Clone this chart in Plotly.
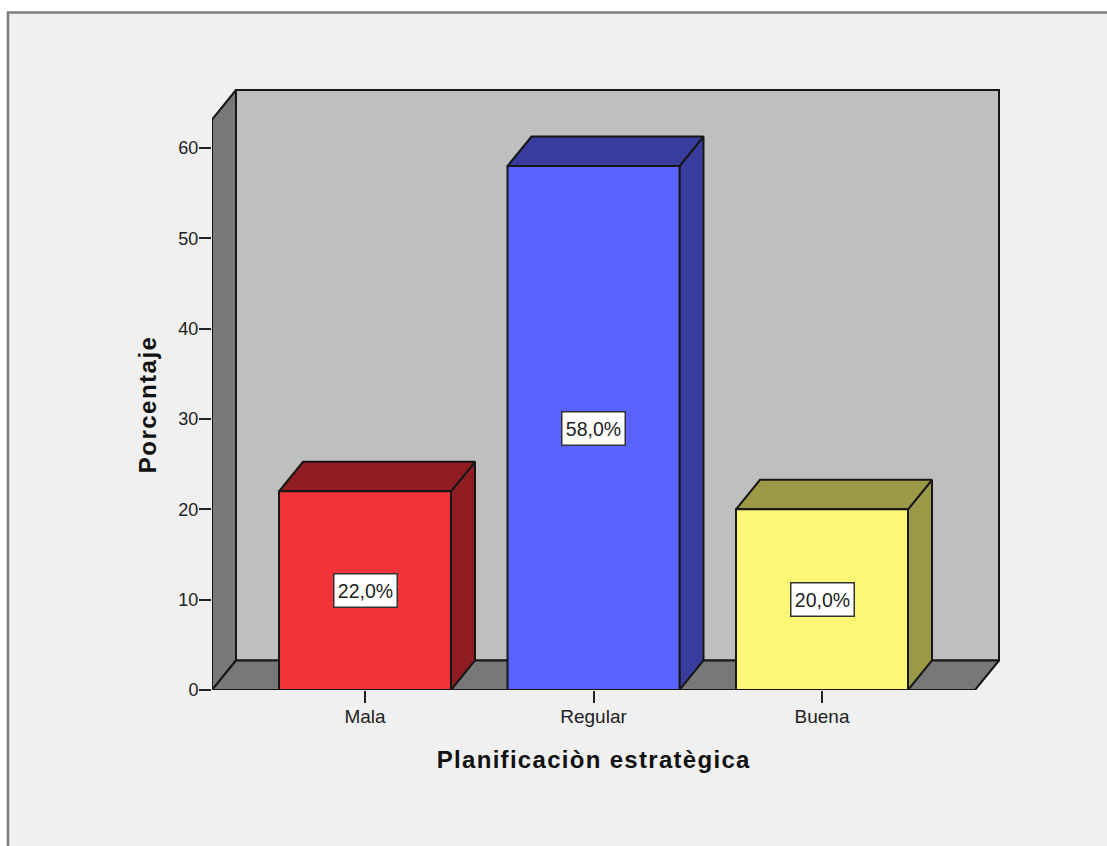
import plotly.graph_objects as go

categories = ["Mala", "Regular", "Buena"]
values = [22.0, 58.0, 20.0]
labels = ["22,0%", "58,0%", "20,0%"]
front_colors = ["#f23339", "#5a62ff", "#fcf876"]
shade_colors = ["#8f1d21", "#383c9c", "#9d9a47"]
y_ticks = [0, 10, 20, 30, 40, 50, 60]

W, H = 1107, 846
PAD = 4                                      # spare room so edge lines are not clipped
PX_L, PX_R, PX_T, PX_B = 212, 999, 90, 690   # 3D box in pixels
PX_X0, PX_STEP = 365, 228.5                  # first category, category step
PX_UNIT = (690 - 148) / 60                   # pixels per y unit
DX = 24 / PX_STEP                            # 3D depth in data units
DY = 29.5 / PX_UNIT
BAR_W = 172 / PX_STEP
X_MIN = (PX_L - PX_X0) / PX_STEP
X_MAX = (PX_R - PX_X0) / PX_STEP
X_FRONT = X_MAX - DX
Y_MAX = (PX_B - PX_T) / PX_UNIT
Y_FRONT = Y_MAX - DY
LINE = "#161616"
TXT = "#222222"
FONT = "Liberation Sans, Arial, sans-serif"


def poly(fig, xs, ys, color):
    fig.add_trace(go.Scatter(
        x=xs + xs[:1], y=ys + ys[:1], mode="lines", fill="toself", fillcolor=color,
        line=dict(color=LINE, width=2), hoverinfo="skip", showlegend=False,
        cliponaxis=False,
    ))


fig = go.Figure()
# back wall, side wall, floor
poly(fig, [X_MIN + DX, X_MAX, X_MAX, X_MIN + DX], [DY, DY, Y_MAX, Y_MAX], "#bfbfbf")
poly(fig, [X_MIN, X_MIN + DX, X_MIN + DX, X_MIN], [0, DY, Y_MAX, Y_FRONT], "#787878")
poly(fig, [X_MIN, X_FRONT, X_MAX, X_MIN + DX], [0, 0, DY, DY], "#787878")

# bars
for i, v in enumerate(values):
    x0, x1 = i - BAR_W / 2, i + BAR_W / 2
    poly(fig, [x1, x1 + DX, x1 + DX, x1], [0, DY, v + DY, v], shade_colors[i])
    poly(fig, [x0, x1, x1 + DX, x0 + DX], [v, v, v + DY, v + DY], shade_colors[i])
    poly(fig, [x0, x1, x1, x0], [0, 0, v, v], front_colors[i])

annotations = [
    dict(x=i, y=v / 2, text=labels[i], showarrow=False, bgcolor="white",
         bordercolor="#333333", borderwidth=1.5, width=60, height=30, borderpad=1,
         font=dict(family=FONT, size=19.5, color=TXT))
    for i, v in enumerate(values)
]
annotations += [
    dict(x=(X_MIN + X_FRONT) / 2, y=0, yshift=-69, text="<b>Planificaciòn estratègica</b>",
         showarrow=False, font=dict(family=FONT, size=24, color="#111111")),
    dict(x=X_MIN, xshift=-64, y=Y_FRONT / 2, text="<b>Porcentaje</b>", textangle=-90,
         showarrow=False, font=dict(family=FONT, size=24, color="#111111")),
]

PLOT_R = PX_R + PAD
PLOT_T = PX_T - PAD


def px(x):
    return (x - PX_L) / (PLOT_R - PX_L)


def py(y):
    return (PX_B - y) / (PX_B - PLOT_T)


fig.update_layout(
    width=W, height=H,
    margin=dict(l=PX_L, r=W - PLOT_R, t=PLOT_T, b=H - PX_B, autoexpand=False),
    paper_bgcolor="white", plot_bgcolor="rgba(0,0,0,0)",
    showlegend=False,
    annotations=annotations,
    shapes=[dict(type="rect", xref="paper", yref="paper", layer="below",
                 x0=px(8), x1=px(W + 20), y0=py(H + 20), y1=py(12.5),
                 fillcolor="#f0f0f0", line=dict(color="#7d7d7d", width=2.5))],
    xaxis=dict(range=[X_MIN, X_MAX + PAD / PX_STEP], tickmode="array", tickvals=list(range(3)),
               ticktext=categories, ticks="outside", ticklen=12, tickwidth=2,
               tickcolor="#222222", showgrid=False, zeroline=False, showline=False,
               ticklabelstandoff=-3,
               tickfont=dict(family=FONT, size=19, color=TXT)),
    yaxis=dict(range=[0, Y_MAX + PAD / PX_UNIT], tickmode="array", tickvals=y_ticks,
               ticks="outside", ticklen=12, tickwidth=2, tickcolor="#222222",
               showgrid=False, zeroline=False, showline=False,
               ticklabelstandoff=-3,
               tickfont=dict(family=FONT, size=18, color=TXT)),
)

post = """
document.body.style.margin='0';
document.querySelectorAll('.annotation-text').forEach(function(t){
  var s=t.textContent;
  if(s.indexOf('Planific')===0){t.style.letterSpacing='1.3px';}
  if(s.indexOf('Porcentaje')===0){t.style.letterSpacing='1.5px';}
});
"""
fig.write_html("out.html", config={"displayModeBar": False}, post_script=post)
